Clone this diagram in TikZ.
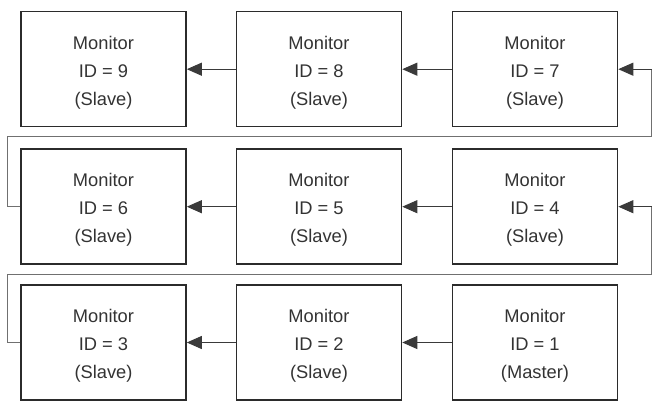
\documentclass[tikz,border=0pt]{standalone}
\usepackage{fontspec}
\setmainfont{Liberation Sans}
\usetikzlibrary{arrows.meta}
\definecolor{boxline}{HTML}{2B2B2B}
\definecolor{conn}{HTML}{3A3A3A}
\definecolor{wrap}{HTML}{707070}
\begin{document}
\begin{tikzpicture}[x=1pt,y=-1pt,
  monbox/.style={draw=boxline,line width=1.6pt,minimum width=165pt,minimum height=115pt,
    inner sep=0pt},
  montext/.style={align=center,inner sep=0pt,text=black!80,yshift=-3.2pt,
    font=\fontsize{18.3}{28}\selectfont},
  link/.style={draw=conn,line width=1pt,-{Triangle[length=15pt,width=13pt]}},
  wrapline/.style={draw=wrap,line width=1pt}]
\useasboundingbox (0,0) rectangle (656,401);
\node[monbox,label={[montext]center:{Monitor\\ID = 9\\(Slave)}}] (m9) at (103.5,69.2) {};
\node[monbox,label={[montext]center:{Monitor\\ID = 8\\(Slave)}}] (m8) at (319,69.2) {};
\node[monbox,label={[montext]center:{Monitor\\ID = 7\\(Slave)}}] (m7) at (535,69.2) {};
\node[monbox,label={[montext]center:{Monitor\\ID = 6\\(Slave)}}] (m6) at (103.5,206.7) {};
\node[monbox,label={[montext]center:{Monitor\\ID = 5\\(Slave)}}] (m5) at (319,206.7) {};
\node[monbox,label={[montext]center:{Monitor\\ID = 4\\(Slave)}}] (m4) at (535,206.7) {};
\node[monbox,label={[montext]center:{Monitor\\ID = 3\\(Slave)}}] (m3) at (103.5,342.5) {};
\node[monbox,label={[montext]center:{Monitor\\ID = 2\\(Slave)}}] (m2) at (319,342.5) {};
\node[monbox,label={[montext]center:{Monitor\\ID = 1\\(Master)}}] (m1) at (535,342.5) {};
\coordinate (a1) at (7.3,342.5);
\coordinate (a2) at (7.3,274.3);
\coordinate (a3) at (651.7,274.3);
\coordinate (a4) at (651.7,206.7);
\coordinate (b1) at (7.3,206.7);
\coordinate (b2) at (7.3,136.7);
\coordinate (b3) at (651.7,136.7);
\coordinate (b4) at (651.7,69.2);
\draw[link] (m1) -- (m2);
\draw[link] (m2) -- (m3);
\draw[link] (m4) -- (m5);
\draw[link] (m5) -- (m6);
\draw[link] (m7) -- (m8);
\draw[link] (m8) -- (m9);
\draw[wrapline] (m3.west) -- (a1) -- (a2) -- (a3) -- (a4);
\draw[wrapline,draw=conn,-{Triangle[length=15pt,width=13pt]}] (a4) -- (m4.east);
\draw[wrapline] (m6.west) -- (b1) -- (b2) -- (b3) -- (b4);
\draw[wrapline,draw=conn,-{Triangle[length=15pt,width=13pt]}] (b4) -- (m7.east);
\end{tikzpicture}
\end{document}
